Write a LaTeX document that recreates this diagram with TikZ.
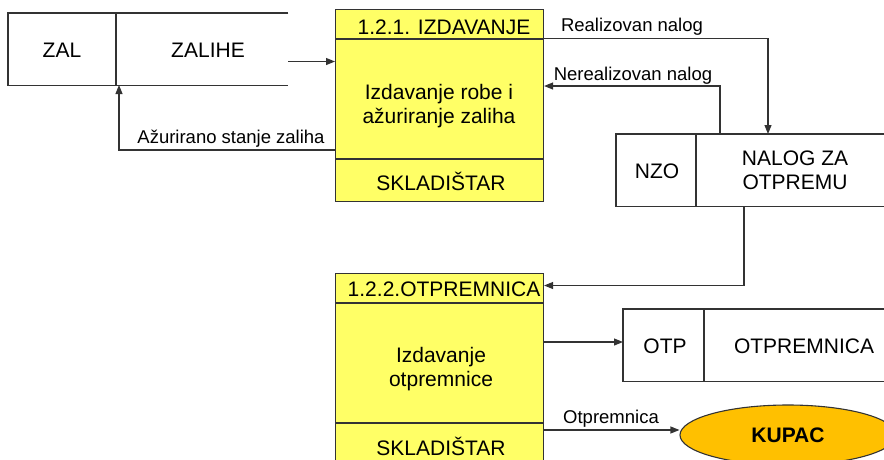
\documentclass[tikz,border=0pt]{standalone}
\usepackage{fontspec}
\setmainfont{Liberation Sans}
\usetikzlibrary{arrows.meta,shapes.geometric}
\definecolor{procyellow}{HTML}{FFFF66}
\definecolor{extorange}{HTML}{FFC000}
\definecolor{linegray}{HTML}{333333}
\newcommand\bigtxt{\fontsize{21}{24}\selectfont}
\newcommand\smalltxt{\fontsize{18.5}{22}\selectfont}
\tikzset{
  ln/.style={draw=linegray, line width=1.1pt},
  flow/.style={ln, -{Triangle[length=9pt,width=7pt]}},
  procbox/.style={ln, fill=procyellow, rectangle, anchor=north west, inner sep=0pt},
  storearea/.style={rectangle, anchor=north west, inner sep=0pt},
  bigtext/.style={font=\bigtxt, inner sep=0pt, anchor=base},
  bigblock/.style={font=\bigtxt, inner sep=0pt, align=center},
  flowlabel/.style={font=\smalltxt, inner sep=0pt, anchor=base},
}
\begin{document}
\begin{tikzpicture}[x=1pt,y=-1pt]
\useasboundingbox (0,0) rectangle (884,459);
\clip (0,0) rectangle (884,459);

% process 1.2.1
\node[procbox, minimum width=208pt, minimum height=192pt] (p1) at (335,9) {};
\draw[ln] (p1.west |- 0,39) -- (p1.east |- 0,39);
\draw[ln] (p1.west |- 0,159) -- (p1.east |- 0,159);
\node[bigtext] (p1h) at (444,34.3) {1.2.1. IZDAVANJE};
\node[bigblock] (p1b) at (439,106.5) {Izdavanje robe i\\ažuriranje zaliha};
\node[bigtext] (p1f) at (441,190) {SKLADIŠTAR};

% process 1.2.2
\node[procbox, minimum width=208pt, minimum height=200pt] (p2) at (335,273) {};
\draw[ln] (p2.west |- 0,303) -- (p2.east |- 0,303);
\draw[ln] (p2.west |- 0,423) -- (p2.east |- 0,423);
\node[bigtext] (p2h) at (444,296.7) {1.2.2.OTPREMNICA};
\node[bigblock] (p2b) at (441,369.5) {Izdavanje\\otpremnice};
\node[bigtext] (p2f) at (441,455) {SKLADIŠTAR};

% data store ZAL
\node[storearea, minimum width=280pt, minimum height=72pt] (zal) at (8,13) {};
\draw[ln] (zal.north east) -- (zal.north west) -- (zal.south west) -- (zal.south east);
\draw[ln] (116,13) -- (116,85);
\node[bigtext] (zalid) at (62,57) {ZAL};
\node[bigtext] (zalname) at (208,57) {ZALIHE};

% data store NZO
\node[storearea, minimum width=270pt, minimum height=72pt] (nzo) at (616,134) {};
\draw[ln] (nzo.north east) -- (nzo.north west) -- (nzo.south west) -- (nzo.south east);
\draw[ln] (696,134) -- (696,206);
\node[bigtext] (nzoid) at (657,178) {NZO};
\node[bigblock] (nzoname) at (795,170) {NALOG ZA\\OTPREMU};

% data store OTP
\node[storearea, minimum width=265pt, minimum height=72pt] (otp) at (623,309) {};
\draw[ln] (otp.north east) -- (otp.north west) -- (otp.south west) -- (otp.south east);
\draw[ln] (704,309) -- (704,381);
\node[bigtext] (otpid) at (665,353) {OTP};
\node[bigtext] (otpname) at (804,353) {OTPREMNICA};

% external entity
\node[ellipse, ln, fill=extorange, minimum width=216pt, minimum height=60pt, inner sep=0pt] (kupac) at (788,435) {};
\node[bigtext, font=\bigtxt\bfseries] (kupactext) at (788,442) {KUPAC};

% flows
\coordinate (zalout) at (288,61.5);
\draw[flow] (zalout) -- (p1.west |- zalout);

\draw[flow] (p1.west |- 0,150) -- (119,150) -- (119,85);
\node[flowlabel] (lazur) at (231,143) {Ažurirano stanje zaliha};

\draw[flow] (p1.east |- 0,38.5) -- (768,38.5) -- (768,134);
\node[flowlabel] (lreal) at (632,31) {Realizovan nalog};

\draw[flow] (720,134) -- (720,86) -- (p1.east |- 0,86);
\node[flowlabel] (lnereal) at (633,80) {Nerealizovan nalog};

\draw[flow] (744,206) -- (744,285.5) -- (p2.east |- 0,285.5);

\draw[flow] (p2.east |- 0,342) -- (otp.west |- 0,342);

\draw[flow] (p2.east |- 0,430) -- (kupac.west |- 0,430);
\node[flowlabel] (lotp) at (611,423) {Otpremnica};
\end{tikzpicture}
\end{document}
